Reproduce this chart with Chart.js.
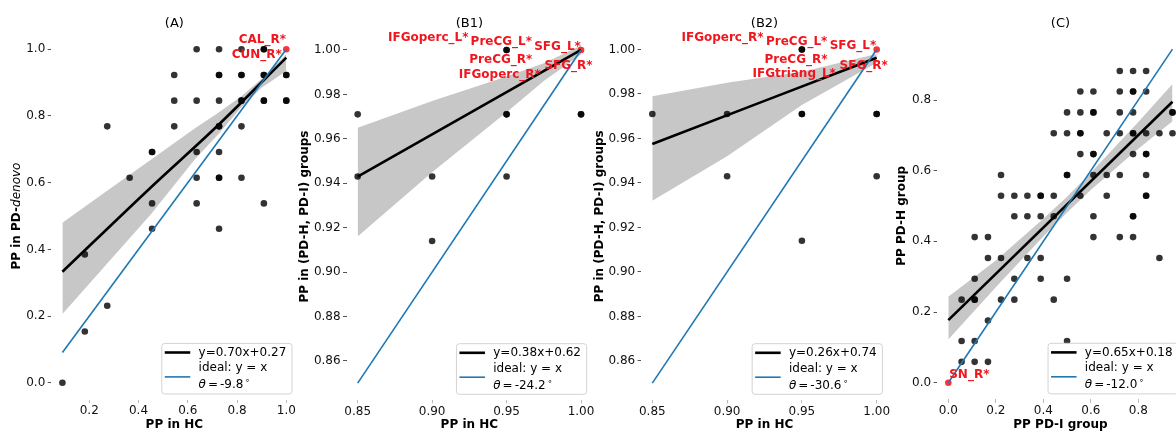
<!DOCTYPE html>
<html>
<head>
<meta charset="utf-8">
<title>PP scatter panels</title>
<script src="https://cdn.jsdelivr.net/npm/chart.js@4.4.1/dist/chart.umd.min.js"></script>
<style>
  html, body { margin: 0; padding: 0; background: #fff; overflow: hidden; }
  #wrap { position: relative; width: 1176px; height: 432px; overflow: hidden; }
  #wrap canvas { position: absolute; left: 0; top: 0; }
</style>
</head>
<body>
<div id="wrap">
  <canvas id="panelA" width="1200" height="432"></canvas>
  <canvas id="panelB1" width="1200" height="432"></canvas>
  <canvas id="panelB2" width="1200" height="432"></canvas>
  <canvas id="panelC" width="1200" height="432"></canvas>
</div>
<script>
// ---- (A) PP in HC vs PP in PD-denovo ----
const aHC = [0.091, 0.182, 0.182, 0.273, 0.273, 0.364, 0.455, 0.455, 0.455,
  0.545, 0.545, 0.545, 0.636, 0.636, 0.636, 0.636, 0.636,
  0.727, 0.727, 0.727, 0.727, 0.727, 0.727, 0.727,
  0.818, 0.818, 0.818, 0.818, 0.818, 0.909, 0.909, 0.909, 0.909, 1.000, 1.000,
  // regions sharing the same values (darker dots)
  0.909, 0.727, 0.818, 0.909, 1.000, 0.818, 0.909, 1.000, 0.727, 0.455, 0.727];
const aDenovo = [0.000, 0.385, 0.154, 0.769, 0.231, 0.615, 0.692, 0.538, 0.462,
  0.923, 0.846, 0.769, 1.000, 0.846, 0.692, 0.615, 0.538,
  1.000, 0.923, 0.846, 0.769, 0.692, 0.615, 0.462,
  1.000, 0.923, 0.846, 0.769, 0.615, 1.000, 0.923, 0.846, 0.538, 0.923, 0.846,
  1.000, 0.923, 0.923, 0.923, 0.923, 0.846, 0.846, 0.846, 0.769, 0.692, 0.615];
const aRedX = [1.0];
const aRedY = [1.0];
const aRedLabels = ['CAL_R*', 'CUN_R*'];
const aFitX = [0.091, 0.453, 0.724, 1.0];
const aFitY = [0.333, 0.588, 0.773, 0.975];
const aBandX = [0.091, 0.264, 0.453, 0.629, 0.724, 0.819, 0.900, 1.0];
const aBandLo = [0.206, 0.350, 0.508, 0.670, 0.745, 0.828, 0.885, 0.935];
const aBandHi = [0.480, 0.571, 0.670, 0.763, 0.810, 0.860, 0.912, 0.985];
const aIdeal = [0.091, 1.0];
const aXTicks = [0.2, 0.4, 0.6, 0.8, 1.0];
const aYTicks = [0.0, 0.2, 0.4, 0.6, 0.8, 1.0];
const aFitLabel = 'y=0.70x+0.27';
const aTheta = '-9.8';

// ---- (B1) ----
const b1HC = [0.85, 0.85, 0.90, 0.90, 0.95, 0.95, 0.95, 1.00, 0.95, 0.95, 1.00];
const b1PD = [0.971, 0.943, 0.943, 0.914, 1.000, 0.971, 0.943, 0.971, 1.000, 0.971, 0.971];
const b1RedX = [1.0];
const b1RedY = [1.0];
const b1RedLabels = ['IFGoperc_L*', 'PreCG_L*', 'SFG_L*', 'PreCG_R*', 'IFGoperc_R*', 'SFG_R*'];
const b1FitX = [0.85, 1.0];
const b1FitY = [0.943, 1.000];
const b1BandX = [0.85, 0.90, 0.95, 0.975, 1.0];
const b1BandLo = [0.916, 0.945, 0.972, 0.986, 0.998];
const b1BandHi = [0.965, 0.977, 0.988, 0.994, 1.002];
const b1FitLabel = 'y=0.38x+0.62';
const b1Theta = '-24.2';

// ---- (B2) ----
const b2HC = [0.85, 0.90, 0.90, 0.95, 0.95, 0.95, 1.00, 1.00, 0.95, 0.95, 1.00];
const b2PD = [0.971, 0.971, 0.943, 1.000, 0.971, 0.914, 0.971, 0.943, 1.000, 0.971, 0.971];
const b2RedX = [1.0];
const b2RedY = [1.0];
const b2RedLabels = ['IFGoperc_R*', 'PreCG_L*', 'SFG_L*', 'PreCG_R*', 'IFGtriang_L*', 'SFG_R*'];
const b2FitX = [0.85, 1.0];
const b2FitY = [0.9575, 0.9963];
const b2BandX = [0.85, 0.90, 0.95, 1.0];
const b2BandLo = [0.932, 0.952, 0.975, 0.994];
const b2BandHi = [0.979, 0.985, 0.990, 0.998];
const b2FitLabel = 'y=0.26x+0.74';
const b2Theta = '-30.6';

const bIdeal = [0.85, 1.0];
const bXTicks = [0.85, 0.90, 0.95, 1.00];
const bYTicks = [0.86, 0.88, 0.90, 0.92, 0.94, 0.96, 0.98, 1.00];

// ---- (C) PP PD-I group vs PP PD-H group ----
const cPDI = [
  0.056, 0.056, 0.056,
  0.111, 0.111, 0.111, 0.111, 0.111,
  0.167, 0.167, 0.167, 0.167,
  0.222, 0.222, 0.222, 0.222,
  0.278, 0.278, 0.278, 0.278,
  0.333, 0.333, 0.333,
  0.389, 0.389, 0.389, 0.389,
  0.444, 0.444, 0.444, 0.444,
  0.500, 0.500, 0.500, 0.500, 0.500,
  0.556, 0.556, 0.556, 0.556, 0.556,
  0.611, 0.611, 0.611, 0.611, 0.611, 0.611,
  0.667, 0.667, 0.667,
  0.722, 0.722, 0.722, 0.722, 0.722, 0.722,
  0.778, 0.778, 0.778, 0.778, 0.778, 0.778, 0.778,
  0.833, 0.833, 0.833, 0.833, 0.833, 0.833,
  0.889, 0.889,
  0.944, 0.944,
  // overlapping regions
  0.389, 0.500, 0.556, 0.611, 0.611, 0.778, 0.778, 0.778, 0.833, 0.833, 0.944, 0.111];
const cPDH = [
  0.059, 0.118, 0.235,
  0.059, 0.118, 0.235, 0.294, 0.412,
  0.059, 0.176, 0.353, 0.412,
  0.235, 0.353, 0.529, 0.588,
  0.235, 0.294, 0.471, 0.529,
  0.353, 0.471, 0.529,
  0.294, 0.353, 0.471, 0.529,
  0.235, 0.471, 0.529, 0.706,
  0.118, 0.294, 0.588, 0.706, 0.765,
  0.529, 0.647, 0.706, 0.765, 0.824,
  0.412, 0.471, 0.588, 0.647, 0.765, 0.824,
  0.529, 0.588, 0.706,
  0.412, 0.588, 0.706, 0.765, 0.824, 0.882,
  0.412, 0.471, 0.647, 0.706, 0.765, 0.824, 0.882,
  0.529, 0.588, 0.647, 0.706, 0.824, 0.882,
  0.353, 0.706,
  0.706, 0.765,
  0.529, 0.588, 0.706, 0.765, 0.647, 0.824, 0.706, 0.471, 0.647, 0.529, 0.765, 0.235];
const cRedX = [0.0];
const cRedY = [0.0];
const cRedLabels = ['SN_R*'];
const cFitX = [0.0, 0.944];
const cFitY = [0.177, 0.795];
const cBandX = [0.0, 0.2, 0.4, 0.5, 0.6, 0.8, 0.944];
const cBandLo = [0.122, 0.270, 0.414, 0.482, 0.545, 0.662, 0.740];
const cBandHi = [0.243, 0.346, 0.464, 0.526, 0.594, 0.738, 0.845];
const cIdeal = [0.0, 0.944];
const cTicks = [0.0, 0.2, 0.4, 0.6, 0.8];
const cFitLabel = 'y=0.65x+0.18';
const cTheta = '-12.0';

// ---- styling ----
const FONT = "'DejaVu Sans', sans-serif";
const RED_TEXT = 'rgb(240,22,30)';
const RED_DOT = 'rgba(255,0,0,0.8)';
const BLUE = '#1f77b4';
const DOT = 'rgba(0,0,0,0.8)';
const BAND = 'rgba(0,0,0,0.22)';
const NONE = 'rgba(0,0,0,0)';

Chart.defaults.font.family = FONT;
Chart.defaults.font.size = 12;
Chart.defaults.color = '#000';

function pts(xs, ys) {
  return xs.map((v, i) => ({ x: v, y: ys[i] }));
}

// panel title, red region labels, legend box, mixed-style y title
const decor = {
  id: 'decor',
  afterDraw(chart, args, o) {
    if (!o || !o.title) return;
    const ctx = chart.ctx;
    const ca = chart.chartArea;
    const xs = chart.scales.x, ys = chart.scales.y;
    ctx.save();
    ctx.textAlign = 'center';
    ctx.textBaseline = 'middle';
    ctx.fillStyle = '#000';
    ctx.font = '13px ' + FONT;
    ctx.fillText(o.title, (ca.left + ca.right) / 2, 23.5);

    // y title with italic part
    if (o.yTitleParts) {
      ctx.save();
      ctx.translate(ys.left + 7.2, (ca.top + ca.bottom) / 2);
      ctx.rotate(-Math.PI / 2);
      ctx.textAlign = 'left';
      let total = 0;
      o.yTitleParts.forEach(p => { ctx.font = p.font; total += ctx.measureText(p.text).width; });
      let tx = -total / 2;
      o.yTitleParts.forEach(p => {
        ctx.font = p.font;
        ctx.fillText(p.text, tx, 0);
        tx += ctx.measureText(p.text).width;
      });
      ctx.restore();
    }

    // red labels
    ctx.font = 'bold 12px ' + FONT;
    ctx.fillStyle = RED_TEXT;
    const px = xs.getPixelForValue(o.redX), py = ys.getPixelForValue(o.redY);
    o.labels.forEach((t, i) => {
      ctx.fillText(t, px + o.offsets[i][0], py + o.offsets[i][1]);
    });

    // legend
    ctx.font = '12px ' + FONT;
    const tw = Math.max(ctx.measureText(o.fitLabel).width, ctx.measureText('ideal: y = x').width);
    const w = tw + 42.5, h = 50.6;
    const bx = ca.right - 6 - w, by = ca.bottom - 6 - h;
    ctx.beginPath();
    ctx.roundRect(bx + 0.5, by + 0.5, w, h, 3);
    ctx.fillStyle = 'rgba(255,255,255,0.8)';
    ctx.fill();
    ctx.strokeStyle = '#d3d3d3';
    ctx.lineWidth = 1;
    ctx.stroke();

    ctx.lineWidth = 2.6;
    ctx.strokeStyle = '#000';
    ctx.beginPath();
    ctx.moveTo(bx + 3.5, by + 9.6);
    ctx.lineTo(bx + 29, by + 9.6);
    ctx.stroke();
    ctx.lineWidth = 1.6;
    ctx.strokeStyle = BLUE;
    ctx.beginPath();
    ctx.moveTo(bx + 3.5, by + 34);
    ctx.lineTo(bx + 29, by + 34);
    ctx.stroke();

    ctx.fillStyle = '#000';
    ctx.textAlign = 'left';
    const lx = bx + 37.3;
    ctx.fillText(o.fitLabel, lx, by + 9.6);
    ctx.fillText('ideal: y = x', lx, by + 25.3);
    let tx = lx;
    const ty = by + 42.3;
    ctx.font = 'italic 12px ' + FONT;
    ctx.fillText('θ', tx, ty);
    tx += ctx.measureText('θ').width + 2;
    ctx.font = '12px ' + FONT;
    ctx.fillText('=', tx, ty);
    tx += ctx.measureText('=').width + 2;
    ctx.fillText(o.theta, tx, ty);
    tx += ctx.measureText(o.theta).width + 1.5;
    ctx.font = '8.5px ' + FONT;
    ctx.fillText('∘', tx, ty - 4);
    ctx.restore();
  }
};
Chart.register(decor);

function makePanel(id, d, g) {
  return new Chart(document.getElementById(id), {
    type: 'line',
    data: {
      datasets: [
        { data: pts(d.bandX, d.bandLo), borderColor: NONE, pointRadius: 0, fill: false,
          tension: 0, order: 5 },
        { data: pts(d.bandX, d.bandHi), borderColor: NONE, pointRadius: 0, fill: 0,
          backgroundColor: BAND, tension: 0, order: 4 },
        { data: pts(d.xs, d.ys), showLine: false, pointRadius: 3.3, pointBorderWidth: 0,
          pointBackgroundColor: DOT, order: 3 },
        { data: pts(d.redX, d.redY), showLine: false, pointRadius: 3.3, pointBorderWidth: 0,
          pointBackgroundColor: RED_DOT, order: 2 },
        { label: d.fitLabel, data: pts(d.fitX, d.fitY), borderColor: '#000', borderWidth: 2.6,
          pointRadius: 0, cubicInterpolationMode: 'monotone', fill: false, order: 1 },
        { label: 'ideal: y = x', data: pts(d.ideal, d.ideal), borderColor: BLUE, borderWidth: 1.6,
          pointRadius: 0, fill: false, order: 0 }
      ]
    },
    options: {
      responsive: false,
      animation: false,
      events: [],
      layout: { padding: { left: g.yTitleX - 7.2, right: 1200 - g.right, top: g.top, bottom: 0 } },
      plugins: {
        legend: { display: false },
        tooltip: { enabled: false },
        decor: {
          title: d.title, labels: d.labels, offsets: g.offsets,
          redX: d.redX[0], redY: d.redY[0], fitLabel: d.fitLabel, theta: d.theta,
          yTitleParts: d.yTitleParts
        }
      },
      scales: {
        x: {
          type: 'linear', min: g.xMin, max: g.xMax,
          afterBuildTicks: s => { s.ticks = d.xTicks.map(v => ({ value: v })); },
          afterFit: s => { s.height = 432 - g.bottom; },
          ticks: { callback: v => v.toFixed(d.digits), padding: 1, maxRotation: 0, autoSkip: false, color: '#111' },
          grid: { drawOnChartArea: false, drawTicks: true, tickLength: 3.5, color: '#bbb' },
          border: { display: false },
          title: { display: true, text: d.xTitle, font: { size: 12, weight: 'bold' }, padding: 0 }
        },
        y: {
          type: 'linear', min: g.yMin, max: g.yMax,
          afterBuildTicks: s => { s.ticks = d.yTicks.map(v => ({ value: v })); },
          afterFit: s => { s.width = g.left - (g.yTitleX - 7.2); },
          ticks: { callback: v => v.toFixed(d.digits), padding: 2.4, autoSkip: false, color: '#111' },
          grid: { drawOnChartArea: false, drawTicks: true, tickLength: 3.5, color: '#555' },
          border: { display: false },
          title: { display: !d.yTitleParts, text: d.yTitle || '', font: { size: 12, weight: 'bold' }, padding: 0 }
        }
      }
    }
  });
}

makePanel('panelA', {
  title: '(A)', xs: aHC, ys: aDenovo, redX: aRedX, redY: aRedY, labels: aRedLabels,
  fitX: aFitX, fitY: aFitY, bandX: aBandX, bandLo: aBandLo, bandHi: aBandHi, ideal: aIdeal,
  xTicks: aXTicks, yTicks: aYTicks, digits: 1, xTitle: 'PP in HC',
  yTitleParts: [{ text: 'PP in PD-', font: 'bold 12px ' + FONT }, { text: 'denovo', font: 'italic 12px ' + FONT }],
  fitLabel: aFitLabel, theta: aTheta
}, {
  yTitleX: 16.5, left: 51.2, right: 297.5, top: 32.6, bottom: 399.5,
  xMin: 0.0455, xMax: 1.0455, yMin: -0.05, yMax: 1.05,
  offsets: [[-24, -9], [-29.6, 5.5]]
});

makePanel('panelB1', {
  title: '(B1)', xs: b1HC, ys: b1PD, redX: b1RedX, redY: b1RedY, labels: b1RedLabels,
  fitX: b1FitX, fitY: b1FitY, bandX: b1BandX, bandLo: b1BandLo, bandHi: b1BandHi, ideal: bIdeal,
  xTicks: bXTicks, yTicks: bYTicks, digits: 2, xTitle: 'PP in HC', yTitle: 'PP in (PD-H, PD-I) groups',
  fitLabel: b1FitLabel, theta: b1Theta
}, {
  yTitleX: 305, left: 346.5, right: 592.2, top: 33.3, bottom: 399.8,
  xMin: 0.8425, xMax: 1.0075, yMin: 0.8425, yMax: 1.0075,
  offsets: [[-152.8, -11.7], [-79.7, -7.7], [-23.5, -3.3], [-80.2, 10.3], [-81.2, 24.7], [-12.5, 16.3]]
});

makePanel('panelB2', {
  title: '(B2)', xs: b2HC, ys: b2PD, redX: b2RedX, redY: b2RedY, labels: b2RedLabels,
  fitX: b2FitX, fitY: b2FitY, bandX: b2BandX, bandLo: b2BandLo, bandHi: b2BandHi, ideal: bIdeal,
  xTicks: bXTicks, yTicks: bYTicks, digits: 2, xTitle: 'PP in HC', yTitle: 'PP in (PD-H, PD-I) groups',
  fitLabel: b2FitLabel, theta: b2Theta
}, {
  yTitleX: 600, left: 641.1, right: 887.9, top: 32.8, bottom: 399.8,
  xMin: 0.8425, xMax: 1.0075, yMin: 0.8425, yMax: 1.0075,
  offsets: [[-154.2, -12], [-80, -7.6], [-23.7, -3.6], [-80.7, 10], [-82.5, 24.7], [-13, 16.4]]
});

makePanel('panelC', {
  title: '(C)', xs: cPDI, ys: cPDH, redX: cRedX, redY: cRedY, labels: cRedLabels,
  fitX: cFitX, fitY: cFitY, bandX: cBandX, bandLo: cBandLo, bandHi: cBandHi, ideal: cIdeal,
  xTicks: cTicks, yTicks: cTicks, digits: 1, xTitle: 'PP PD-I group', yTitle: 'PP PD-H group',
  fitLabel: cFitLabel, theta: cTheta
}, {
  yTitleX: 901.7, left: 937.1, right: 1183.8, top: 32.3, bottom: 399.4,
  xMin: -0.0472, xMax: 0.9916, yMin: -0.0472, yMax: 0.9916,
  offsets: [[21, -7.7]]
});
</script>
</body>
</html>
